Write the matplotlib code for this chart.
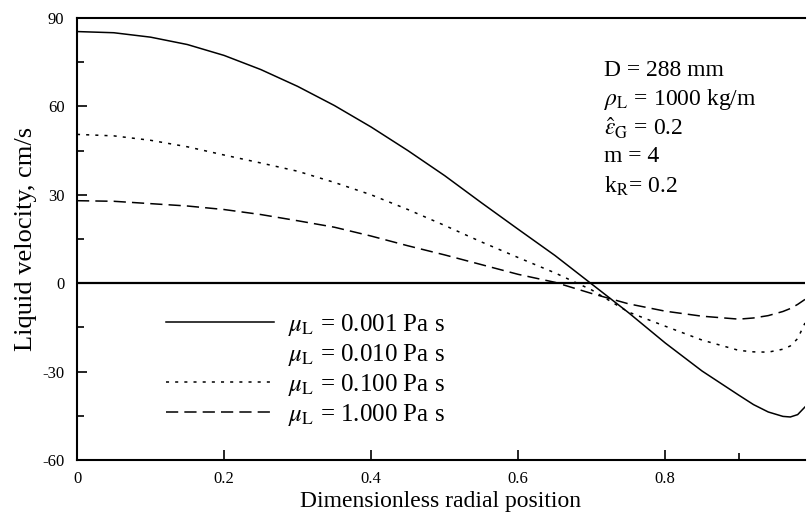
import numpy as np
import matplotlib
matplotlib.use("Agg")
import matplotlib.pyplot as plt
from matplotlib.lines import Line2D

plt.rcParams['font.family'] = ['Liberation Serif', 'DejaVu Serif']
plt.rcParams['mathtext.fontset'] = 'stix'
plt.rcParams['axes.unicode_minus'] = False

# radial position
r_pos = [0, 0.05, 0.1, 0.15, 0.2, 0.25, 0.3, 0.35, 0.4, 0.45, 0.5, 0.55,
         0.6, 0.65, 0.7, 0.75, 0.8, 0.85, 0.9, 0.92, 0.94, 0.96, 0.97, 0.98, 0.99]

# liquid velocity, cm/s
v_0001 = [85.4, 85.0, 83.5, 81.0, 77.3, 72.5, 66.8, 60.3, 53.0, 45.0, 36.5, 27.3,
          18.3, 9.4, -0.3, -10.0, -20.3, -29.8, -38.0, -41.2, -43.7, -45.2, -45.4, -44.6, -42.0]
v_0100 = [50.5, 50.0, 48.5, 46.3, 43.5, 40.8, 38.0, 34.2, 30.0, 25.0, 19.6, 14.0,
          8.7, 3.5, -2.3, -9.8, -14.6, -19.3, -22.8, -23.3, -23.4, -22.4, -21.3, -18.8, -13.5]
v_1000 = [28.0, 27.8, 27.0, 26.2, 25.0, 23.3, 21.2, 19.0, 16.0, 12.7, 9.6, 6.3,
          3.0, 0.3, -3.5, -7.0, -9.5, -11.2, -12.2, -11.8, -11.0, -9.6, -8.6, -7.2, -5.5]

labels = [r'$\mu_{\rm L}$ = 0.001 Pa s', r'$\mu_{\rm L}$ = 0.010 Pa s',
          r'$\mu_{\rm L}$ = 0.100 Pa s', r'$\mu_{\rm L}$ = 1.000 Pa s']

info = ['D = 288 mm', r'$\rho_{\rm L}$ = 1000 kg/m', r'$\hat{\varepsilon}_{\rm G}$ = 0.2',
        'm = 4', r'k$_{\rm R}$= 0.2']

y_ticks = [-60, -30, 0, 30, 60, 90]
x_ticks = [0, 0.2, 0.4, 0.6, 0.8]
x_tick_labels = ['0', '0.2', '0.4', '0.6', '0.8']

fig = plt.figure(figsize=(8.07, 5.16), dpi=100)
ax = fig.add_axes([77/807, 1 - 460/516, 728/807, 442/516])

lw = 1.1
ax.axhline(0, color='black', lw=1.6)
l1, = ax.plot(r_pos, v_0001, color='black', lw=lw)
l3, = ax.plot(r_pos, v_0100, color='black', lw=lw, dashes=(2, 4))
l4, = ax.plot(r_pos, v_1000, color='black', lw=lw, dashes=(8, 4))
l2 = Line2D([], [], linestyle='none')

ax.set_xlim(0, 0.99)
ax.set_ylim(-60, 90)
ax.set_yticks(y_ticks)
ax.set_yticks([-45, -15, 15, 45, 75], minor=True)
ax.set_xticks(x_ticks)
ax.set_xticklabels(x_tick_labels)
ax.set_xticks([0.9], minor=True)
ax.tick_params(which='both', direction='in', labelsize=12, width=1.2)
ax.tick_params(which='major', length=7)
ax.tick_params(which='minor', length=5)
ax.tick_params(axis='y', pad=9)
ax.tick_params(axis='x', pad=8)

for side in ['left', 'bottom', 'top']:
    ax.spines[side].set_linewidth(1.5)
ax.spines['right'].set_visible(False)

ax.set_xlabel('Dimensionless radial position', fontsize=17, labelpad=3)
ax.set_ylabel('Liquid velocity, cm/s', fontsize=19, labelpad=4)

ax.legend([l1, l2, l3, l4], labels, loc='center left',
          bbox_to_anchor=((166 - 77) / 728, (460 - 369.5) / 442),
          frameon=False, fontsize=18, handlelength=4.3, handletextpad=0.56,
          labelspacing=0.16, borderpad=0, borderaxespad=0)

for i, line in enumerate(info):
    fig.text(604/807, 1 - (70 + 29*i)/516, line, fontsize=17, va='center', ha='left')

fig.savefig('out.png', dpi=100)
